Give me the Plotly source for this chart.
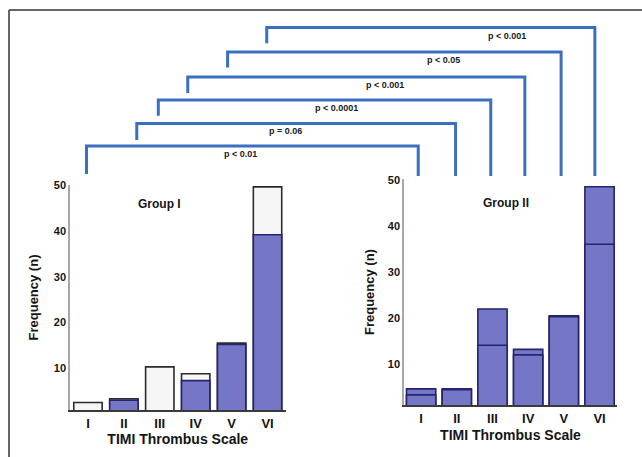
import plotly.graph_objects as go

# ---------------- data ----------------
categories = ["I", "II", "III", "IV", "V", "VI"]

# Group I: total bar (open/white top part) and blue part
g1_total = [2.5, 3.3, 10.3, 8.8, 15.5, 49.7]
g1_blue = [None, 3.0, None, 7.3, 15.2, 39.2]

# Group II: total bar and inner line value
g2_total = [4.6, 4.6, 22.0, 13.2, 20.5, 48.6]
g2_inner = [3.3, 4.4, 14.1, 12.0, 20.3, 36.1]

y_ticks = [10, 20, 30, 40, 50]

# comparison brackets (category units on a shared overlay axis: group I cat i -> i,
# group II cat j -> about 9.27 + j)
p_labels = ["p < 0.01", "p = 0.06", "p < 0.0001", "p < 0.001", "p < 0.05", "p < 0.001"]
br_left = [-0.04, 1.36, 1.96, 2.78, 3.89, 4.98]
br_right = [9.20, 10.24, 11.22, 12.17, 13.18, 14.12]
br_level = [0.0, 0.96, 1.96, 2.94, 4.0, 5.04]
br_left_drop = [1.19, 0.70, 0.67, 0.68, 0.66, 0.67]
br_right_bottom = -1.28
br_label_x = [4.24, 5.49, 6.91, 8.27, 9.89, 11.67]

BLUE = "#7676c6"
NAVY = "#25256e"
WHITE = "#f6f6f7"
DARK = "#2b2b2b"
BLUE_LINE = "#3d6fc0"

W, H = 642, 457

fig = go.Figure()

# Group I bars
fig.add_trace(go.Bar(x=categories, y=g1_total, xaxis="x", yaxis="y", width=0.79,
                     marker=dict(color=WHITE, line=dict(color=DARK, width=1.6)),
                     showlegend=False, hoverinfo="skip"))
fig.add_trace(go.Bar(x=categories, y=g1_blue, xaxis="x", yaxis="y", width=0.79,
                     marker=dict(color=BLUE, line=dict(color=NAVY, width=1.6)),
                     showlegend=False, hoverinfo="skip"))

# Group II bars
fig.add_trace(go.Bar(x=categories, y=g2_total, xaxis="x2", yaxis="y2", width=0.82,
                     marker=dict(color=BLUE, line=dict(color=NAVY, width=1.6)),
                     showlegend=False, hoverinfo="skip"))
fig.add_trace(go.Bar(x=categories, y=g2_inner, xaxis="x2", yaxis="y2", width=0.82,
                     marker=dict(color=BLUE, line=dict(color=NAVY, width=1.6)),
                     showlegend=False, hoverinfo="skip"))

# Brackets on an independent full-figure axis pair
for i in range(len(p_labels)):
    xs = [br_left[i], br_left[i], br_right[i], br_right[i]]
    ys = [br_level[i] - br_left_drop[i], br_level[i], br_level[i], br_right_bottom]
    fig.add_trace(go.Scatter(x=xs, y=ys, xaxis="x3", yaxis="y3", mode="lines",
                             line=dict(color=BLUE_LINE, width=3),
                             showlegend=False, hoverinfo="skip"))
    fig.add_annotation(x=br_label_x[i], y=br_level[i], xref="x3", yref="y3",
                       text="<b>%s</b>" % p_labels[i], showarrow=False,
                       yanchor="top", yshift=-1,
                       font=dict(size=9, color="#1a1a1a", family="Liberation Sans, Arial"))

font_family = "Liberation Sans, Arial, sans-serif"
tick_font = dict(size=11, color="#151515", family=font_family)
xtick_font = dict(size=13, color="#151515", family=font_family)
title_font = dict(size=13, color="#151515", family=font_family)
xtitle_font = dict(size=14, color="#151515", family=font_family)

fig.update_layout(
    width=W, height=H,
    margin=dict(l=0, r=0, t=0, b=0),
    paper_bgcolor="white", plot_bgcolor="rgba(0,0,0,0)",
    barmode="overlay",
    font=dict(family=font_family),
    xaxis=dict(domain=[70 / W, 285.5 / W], range=[-0.5, 5.5], anchor="y",
               showline=True, linecolor="#3a3a3a", linewidth=2, showgrid=False,
               ticks="", tickfont=xtick_font, tickmode="array", tickvals=categories,
               ticktext=["<b>%s</b>" % c for c in categories],
               title=dict(text="<b>TIMI Thrombus Scale</b>", font=xtitle_font, standoff=0),
               zeroline=False, automargin=False),
    yaxis=dict(domain=[1 - 410 / H, 1 - 185 / H], range=[0.87, 50.1], anchor="x",
               showline=True, linecolor="#a8a8a8", linewidth=1.5, showgrid=False,
               ticks="", tickvals=y_ticks, ticktext=["<b>%d</b>" % v for v in y_ticks],
               tickfont=tick_font, zeroline=False, automargin=False,
               title=dict(text="<b>Frequency (n)</b>", font=title_font, standoff=12)),
    xaxis2=dict(domain=[404 / W, 617 / W], range=[-0.48, 5.49], anchor="y2",
                showline=True, linecolor="#3a3a3a", linewidth=2, showgrid=False,
                ticks="", tickfont=xtick_font, tickmode="array", tickvals=categories,
                ticktext=["<b>%s</b>" % c for c in categories],
                title=dict(text="<b>TIMI Thrombus Scale</b>", font=xtitle_font, standoff=6),
                zeroline=False, automargin=False),
    yaxis2=dict(domain=[1 - 405 / H, 1 - 179 / H], range=[1.09, 50.3], anchor="x2",
                showline=True, linecolor="#a8a8a8", linewidth=1.5, showgrid=False,
                ticks="", tickvals=y_ticks, ticktext=["<b>%d</b>" % v for v in y_ticks],
                tickfont=tick_font, zeroline=False, automargin=False,
                title=dict(text="<b>Frequency (n)</b>", font=title_font, standoff=10)),
    xaxis3=dict(domain=[0, 1], range=[-0.5 - 70 / 35.9, -0.5 + (W - 70) / 35.9],
                visible=False, anchor="y3", fixedrange=True),
    yaxis3=dict(domain=[0, 1], range=[-(H - 146) / 23.5, 146 / 23.5],
                visible=False, anchor="x3", fixedrange=True),
)

# group labels
fig.add_annotation(x=2, y=46, xref="x", yref="y", text="<b>Group I</b>", showarrow=False,
                   font=dict(size=12, color="#151515", family=font_family))
fig.add_annotation(x=2.37, y=45.1, xref="x2", yref="y2", text="<b>Group II</b>", showarrow=False,
                   font=dict(size=12, color="#151515", family=font_family))

# outer frame (top and left edges)
fig.add_shape(type="line", xref="paper", yref="paper", x0=9 / W, x1=1, y0=1 - 10 / H, y1=1 - 10 / H,
              line=dict(color="#333333", width=1.5))
fig.add_shape(type="line", xref="paper", yref="paper", x0=9 / W, x1=9 / W, y0=0, y1=1 - 10 / H,
              line=dict(color="#333333", width=1.5))

fig.write_html("out.html", config={"displayModeBar": False},
               post_script="document.body.style.margin='0';document.body.style.overflow='hidden';")
